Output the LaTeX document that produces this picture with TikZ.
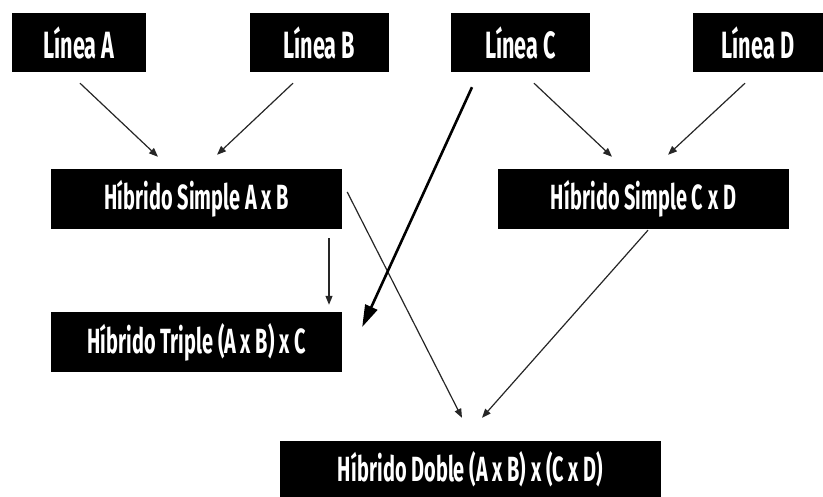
\documentclass[tikz,border=0pt]{standalone}
\usepackage{fontspec}
\setmainfont{Fira Sans}
\usetikzlibrary{arrows.meta,calc}
\newcommand{\cond}[1]{\scalebox{0.57}[1]{#1}}
\tikzset{
  box/.style={fill=black,draw=none,inner sep=0pt,text=white,font=\fontsize{35}{40}\selectfont\bfseries},
  topbox/.style={box,minimum height=59pt,font=\fontsize{38}{42}\selectfont\bfseries},
  midbox/.style={box,minimum height=60pt,minimum width=291pt},
  conn/.style={line width=1.2pt,draw=black!85,-{Triangle[length=9pt,width=7pt]}},
  thick conn/.style={line width=2.6pt,draw=black,-{Triangle[length=22pt,width=13pt]}}
}
\begin{document}
\begin{tikzpicture}[x=1pt,y=-1pt]
\useasboundingbox (0,0) rectangle (823,497);
\node[topbox,minimum width=134pt] (LA) at (79,42.5) {\cond{Línea A}};
\node[topbox,minimum width=139pt] (LB) at (319.5,42.5) {\cond{Línea B}};
\node[topbox,minimum width=139pt] (LC) at (520.5,42.5) {\cond{Línea C}};
\node[topbox,minimum width=130pt] (LD) at (758,42.5) {\cond{Línea D}};
\node[midbox] (SAB) at (196.5,199) {\cond{Híbrido Simple A x B}};
\node[midbox] (SCD) at (643.5,199) {\cond{Híbrido Simple C x D}};
\node[midbox] (T) at (196.5,342) {\cond{Híbrido Triple (A x B) x C}};
\node[box,minimum width=381pt,minimum height=56pt] (D) at (470.5,469) {\cond{Híbrido Doble (A x B) x (C x D)}};

\draw[conn] ([shift={(1,11)}]LA.south) -- ([shift={(-38.5,-12)}]SAB.north);
\draw[conn] ([shift={(-26.5,11)}]LB.south) -- ([shift={(20.5,-14)}]SAB.north);
\draw[conn] ([shift={(13.5,11)}]LC.south) -- ([shift={(-31.5,-12)}]SCD.north);
\draw[conn] ([shift={(-13,11)}]LD.south) -- ([shift={(24.5,-14)}]SCD.north);
\draw[conn] ([shift={(132.5,9)}]SAB.south) -- ([shift={(132.5,-7)}]T.north);
\draw[conn] ([shift={(5,-7)}]SAB.east) -- ([shift={(-8.5,-23)}]D.north);
\draw[conn] ([shift={(4.5,1)}]SCD.south) -- ([shift={(11.5,-23)}]D.north);
\draw[thick conn] ([shift={(-48.5,15)}]LC.south) -- ([shift={(20,-15)}]T.east);
\end{tikzpicture}
\end{document}
